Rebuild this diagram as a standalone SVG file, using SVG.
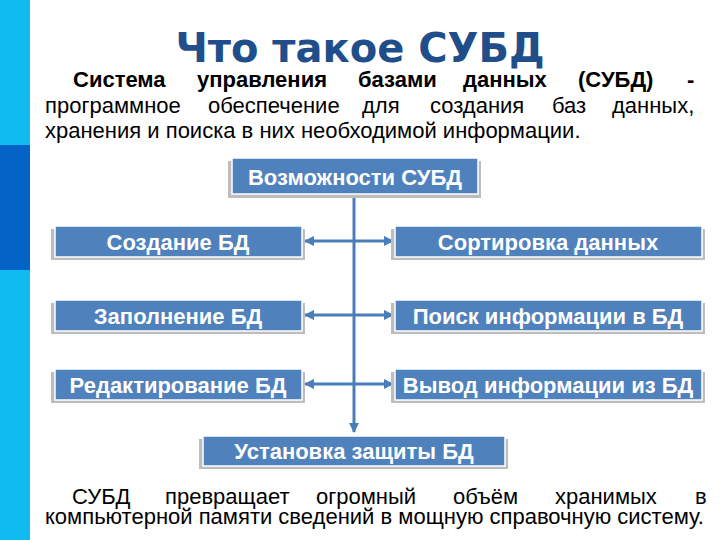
<svg xmlns="http://www.w3.org/2000/svg" width="720" height="540" viewBox="0 0 720 540">
<defs>
<style>
.bx{fill:#4F81BD;stroke:#ffffff;stroke-width:1.5}
.sh{fill:#BDBDBD}
.bt{font-family:"Liberation Sans",Arial,sans-serif;font-weight:bold;font-size:22px;fill:#ffffff;text-anchor:middle}
.tx{font-family:"Liberation Sans",Arial,sans-serif;font-size:22px;fill:#000000}
.con{stroke:#4A7EBB;stroke-width:3;fill:none}
</style>
<marker id="ah" viewBox="0 0 10 10" refX="9" refY="5" markerWidth="3.5" markerHeight="3.5" orient="auto-start-reverse">
<path d="M0,0 L10,5 L0,10 z" fill="#4A7EBB"/>
</marker>
</defs>
<rect x="0" y="0" width="720" height="540" fill="#ffffff"/>
<rect x="0" y="0" width="30" height="145" fill="#10BBEF"/>
<rect x="0" y="145" width="30" height="125" fill="#0362C5"/>
<rect x="0" y="270" width="30" height="270" fill="#10BBEF"/>

<text x="360" y="62" text-anchor="middle" font-family="DejaVu Sans,sans-serif" font-weight="bold" font-size="40" fill="#1F4E8A">Что такое СУБД</text>

<text class="tx" font-weight="bold" font-size="21" y="87"><tspan x="73">Система</tspan><tspan x="197">управления</tspan><tspan x="358">базами</tspan><tspan x="463">данных</tspan><tspan x="578">(СУБД)</tspan><tspan x="687">-</tspan></text>
<text class="tx" y="113"><tspan x="45">программное</tspan><tspan x="208">обеспечение</tspan><tspan x="362">для</tspan><tspan x="430">создания</tspan><tspan x="552">баз</tspan><tspan x="612">данных,</tspan></text>
<text class="tx" x="45" y="138">хранения и поиска в них необходимой информации.</text>

<g id="connectors">
<line class="con" x1="354" y1="194" x2="354" y2="432" marker-end="url(#ah)"/>
<line class="con" x1="305" y1="241" x2="393" y2="241" marker-start="url(#ah)" marker-end="url(#ah)"/>
<line class="con" x1="305" y1="315" x2="393" y2="315" marker-start="url(#ah)" marker-end="url(#ah)"/>
<line class="con" x1="305" y1="384" x2="393" y2="384" marker-start="url(#ah)" marker-end="url(#ah)"/>
</g>

<g id="n-top">
<rect class="sh" x="228" y="161" width="253" height="37"/>
<rect class="bx" x="232" y="158" width="246" height="36"/>
<text class="bt" x="355" y="185">Возможности СУБД</text>
</g>
<g id="n-create">
<rect class="sh" x="51" y="229" width="254" height="31"/>
<rect class="bx" x="55" y="226" width="247" height="31"/>
<text class="bt" x="178" y="250">Создание БД</text>
</g>
<g id="n-fill">
<rect class="sh" x="51" y="303" width="254" height="31"/>
<rect class="bx" x="55" y="300" width="247" height="31"/>
<text class="bt" x="178" y="324">Заполнение БД</text>
</g>
<g id="n-edit">
<rect class="sh" x="51" y="372" width="254" height="31"/>
<rect class="bx" x="55" y="369" width="247" height="31"/>
<text class="bt" x="178" y="393">Редактирование БД</text>
</g>
<g id="n-sort">
<rect class="sh" x="391" y="229" width="314" height="31"/>
<rect class="bx" x="395" y="226" width="307" height="31"/>
<text class="bt" x="548" y="250">Сортировка данных</text>
</g>
<g id="n-search">
<rect class="sh" x="391" y="303" width="314" height="31"/>
<rect class="bx" x="395" y="300" width="307" height="31"/>
<text class="bt" x="548" y="324">Поиск информации в БД</text>
</g>
<g id="n-output">
<rect class="sh" x="391" y="372" width="314" height="31"/>
<rect class="bx" x="395" y="369" width="307" height="31"/>
<text class="bt" x="548" y="393">Вывод информации из БД</text>
</g>
<g id="n-protect">
<rect class="sh" x="199" y="439" width="309" height="30"/>
<rect class="bx" x="203" y="436" width="302" height="30"/>
<text class="bt" x="354" y="459">Установка защиты БД</text>
</g>

<text class="tx" y="504"><tspan x="72">СУБД</tspan><tspan x="165">превращает</tspan><tspan x="316">огромный</tspan><tspan x="453">объём</tspan><tspan x="555">хранимых</tspan><tspan x="695">в</tspan></text>
<text class="tx" x="45" y="524">компьютерной памяти сведений в мощную справочную систему.</text>
</svg>
